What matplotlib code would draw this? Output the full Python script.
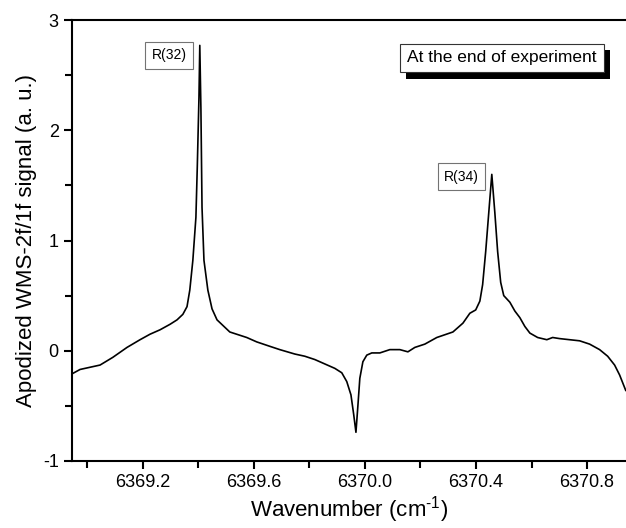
import numpy as np
import matplotlib
matplotlib.use("Agg")
import matplotlib.pyplot as plt
import matplotlib.patheffects as pe
from matplotlib.ticker import MultipleLocator, FormatStrFormatter

plt.rcParams["font.family"] = ["Liberation Sans", "DejaVu Sans"]
plt.rcParams["axes.unicode_minus"] = False
plt.rcParams["mathtext.fontset"] = "custom"
plt.rcParams["mathtext.rm"] = "Liberation Sans"

# spectrum (wavenumber in cm-1, signal in a.u.)
wavenumber = [
    6368.946, 6368.975, 6369.011, 6369.047, 6369.093, 6369.144, 6369.191,
    6369.227, 6369.263, 6369.299, 6369.324, 6369.345, 6369.360, 6369.370,
    6369.381, 6369.392, 6369.397, 6369.403, 6369.406, 6369.410, 6369.414,
    6369.421, 6369.435, 6369.450, 6369.468, 6369.514, 6369.575, 6369.611,
    6369.658, 6369.694, 6369.748, 6369.784, 6369.820,
    6369.856, 6369.892, 6369.917, 6369.935, 6369.950, 6369.960, 6369.968,
    6369.975, 6369.982, 6369.993, 6370.007, 6370.025, 6370.054, 6370.090,
    6370.126, 6370.155, 6370.180, 6370.216, 6370.259, 6370.317, 6370.353,
    6370.378, 6370.399, 6370.414, 6370.424, 6370.435, 6370.446, 6370.457,
    6370.468, 6370.478, 6370.489, 6370.500, 6370.522, 6370.540, 6370.558,
    6370.576, 6370.594, 6370.622, 6370.655, 6370.676, 6370.701, 6370.737,
    6370.773, 6370.809, 6370.845, 6370.874, 6370.899, 6370.917, 6370.939,
]
signal = [
    -0.21, -0.17, -0.15, -0.13, -0.06, 0.03, 0.10,
    0.15, 0.19, 0.24, 0.28, 0.33, 0.40, 0.55,
    0.82, 1.21, 1.67, 2.30, 2.77, 2.20, 1.30,
    0.82, 0.55, 0.38, 0.28, 0.17, 0.12, 0.08,
    0.04, 0.01, -0.03, -0.05, -0.08,
    -0.12, -0.16, -0.20, -0.28, -0.40, -0.58, -0.74,
    -0.50, -0.25, -0.10, -0.04, -0.02, -0.02, 0.01,
    0.01, -0.01, 0.03, 0.06, 0.12, 0.17, 0.25,
    0.34, 0.37, 0.45, 0.60, 0.90, 1.25, 1.60,
    1.25, 0.90, 0.62, 0.50, 0.44, 0.36, 0.30,
    0.22, 0.16, 0.12, 0.10, 0.12, 0.11, 0.10,
    0.09, 0.06, 0.01, -0.05, -0.13, -0.22, -0.36,
]

line_labels = ["R(32)", "R(34)"]
label_pos = [(6369.295, 2.68), (6370.349, 1.58)]

fig = plt.figure(figsize=(6.26, 5.28), dpi=100)
ax = fig.add_axes([0.115, 0.127, 0.885, 0.835])
ax.plot(wavenumber, signal, color="black", lw=1.2)

ax.set_xlim(6368.946, 6370.94)
ax.set_ylim(-1, 3)
ax.set_xticks([6369.2, 6369.6, 6370.0, 6370.4, 6370.8])
ax.set_xticks([6369.0, 6369.4, 6369.8, 6370.2, 6370.6], minor=True)
ax.xaxis.set_major_formatter(FormatStrFormatter("%.1f"))
ax.yaxis.set_major_locator(MultipleLocator(1))
ax.yaxis.set_minor_locator(MultipleLocator(0.5))
ax.yaxis.set_major_formatter(FormatStrFormatter("%d"))
ax.tick_params(which="both", direction="out", width=1.5, labelsize=13)
ax.tick_params(which="major", length=6)
ax.tick_params(which="minor", length=5)
for s in ["left", "bottom", "top"]:
    ax.spines[s].set_linewidth(1.5)
ax.spines["right"].set_visible(False)

ax.set_xlabel("Wavenumber (cm$^{\\text{-1}}$)", fontsize=16, labelpad=2)
ax.set_ylabel("Apodized WMS-2f/1f signal (a. u.)", fontsize=16, labelpad=4)

for lab, (x, y) in zip(line_labels, label_pos):
    ax.text(x, y, lab, ha="center", va="center", fontsize=10,
            bbox=dict(boxstyle="square,pad=0.45", fc="white", ec="0.45", lw=0.8))

t = ax.text(0.776, 0.914, "At the end of experiment", transform=ax.transAxes,
            ha="center", va="center", fontsize=12.5,
            bbox=dict(boxstyle="square,pad=0.4", fc="white", ec="0.2", lw=0.8))
t.get_bbox_patch().set_path_effects([
    pe.SimplePatchShadow(offset=(4.5, -4.5), shadow_rgbFace="black", alpha=1),
    pe.Normal(),
])

fig.savefig("out.png", dpi=100)
